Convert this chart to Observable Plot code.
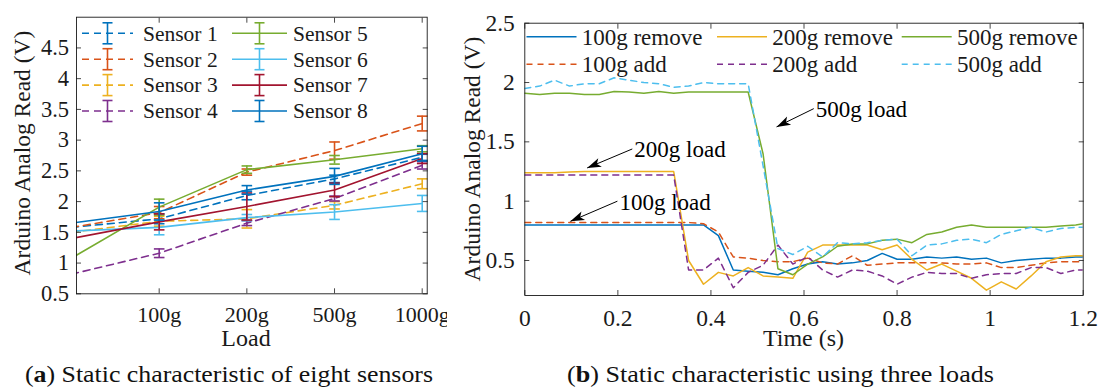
<!DOCTYPE html>
<html><head><meta charset="utf-8">
<script src="https://cdn.jsdelivr.net/npm/d3@7"></script>
<script src="https://cdn.jsdelivr.net/npm/@observablehq/plot@0.6"></script>
<style>
html,body{margin:0;padding:0;background:#fff;}
#wrap{position:relative;width:1099px;height:389px;overflow:hidden;background:#fff;}
#pa{position:absolute;left:0;top:0;width:447px;height:360px;overflow:hidden;}
#pb{position:absolute;left:447px;top:0;width:652px;height:360px;overflow:hidden;}
#caps{position:absolute;left:0;top:0;pointer-events:none;}
</style></head><body>
<div id="wrap"><div id="pa"></div><div id="pb"></div><svg id="caps" width="1099" height="389"></svg></div>
<script>
// ---------- Panel (a) data ----------
const sensorNames = ["Sensor 1","Sensor 2","Sensor 3","Sensor 4","Sensor 5","Sensor 6","Sensor 7","Sensor 8"];
const sensorColors = ["#0072BD","#D95319","#EDB120","#7E2F8E","#77AC30","#4DBEEE","#A2142F","#0072BD"];
const sensorDashed = [true,true,true,true,false,false,false,false];
const loadPos = [0,1,2,3,4];
const loadLabels = ["100g","200g","500g","1000g"];
const sensor1 = [1.58,1.72,2.10,2.37,2.72];
const sensor2 = [1.58,1.82,2.48,2.83,3.27];
const sensor3 = [1.50,1.68,1.72,1.94,2.29];
const sensor4 = [0.82,1.16,1.65,2.05,2.59];
const sensor5 = [1.08,1.91,2.52,2.68,2.86];
const sensor6 = [1.52,1.58,1.74,1.83,1.97];
const sensor7 = [1.40,1.67,1.92,2.19,2.70];
const sensor8 = [1.65,1.84,2.19,2.41,2.78];
const sensor1Err = [0.08,0.07,0.06,0.05];
const sensor2Err = [0.10,0.05,0.14,0.12];
const sensor3Err = [0.08,0.15,0.06,0.08];
const sensor4Err = [0.07,0.04,0.04,0.06];
const sensor5Err = [0.13,0.06,0.07,0.05];
const sensor6Err = [0.12,0.05,0.12,0.13];
const sensor7Err = [0.13,0.22,0.11,0.08];
const sensor8Err = [0.14,0.07,0.13,0.12];
const yTicksA = [0.5,1,1.5,2,2.5,3,3.5,4,4.5];

// ---------- Panel (b) data ----------
const timeS = [0,0.032,0.064,0.096,0.128,0.16,0.192,0.224,0.256,0.288,0.32,0.352,0.384,0.416,0.448,0.48,0.512,0.544,0.576,0.608,0.64,0.672,0.704,0.736,0.768,0.8,0.832,0.864,0.896,0.928,0.96,0.992,1.024,1.056,1.088,1.12,1.152,1.184,1.216];
const remove100 = [0.80,0.80,0.80,0.80,0.80,0.80,0.80,0.80,0.80,0.80,0.80,0.80,0.80,0.71,0.42,0.41,0.40,0.38,0.43,0.47,0.49,0.47,0.48,0.50,0.56,0.51,0.51,0.53,0.52,0.53,0.51,0.52,0.48,0.50,0.51,0.52,0.52,0.53,0.53];
const add100 = [0.82,0.82,0.82,0.82,0.82,0.82,0.82,0.82,0.82,0.82,0.82,0.82,0.81,0.74,0.53,0.52,0.50,0.49,0.49,0.52,0.48,0.47,0.54,0.46,0.47,0.48,0.48,0.48,0.48,0.47,0.47,0.48,0.44,0.44,0.46,0.48,0.49,0.49,0.49];
const remove200 = [1.24,1.24,1.24,1.245,1.25,1.25,1.25,1.25,1.25,1.25,1.25,0.50,0.30,0.40,0.37,0.44,0.37,0.36,0.35,0.57,0.63,0.63,0.63,0.63,0.59,0.63,0.51,0.42,0.47,0.41,0.35,0.25,0.32,0.26,0.37,0.49,0.53,0.54,0.54];
const add200 = [1.22,1.22,1.22,1.22,1.22,1.22,1.22,1.22,1.22,1.22,1.22,0.42,0.42,0.52,0.27,0.40,0.46,0.63,0.47,0.53,0.42,0.36,0.42,0.41,0.37,0.30,0.36,0.40,0.39,0.39,0.35,0.38,0.39,0.39,0.44,0.44,0.39,0.42,0.42];
const remove500 = [1.91,1.90,1.91,1.91,1.90,1.90,1.925,1.92,1.91,1.925,1.91,1.92,1.92,1.92,1.92,1.92,1.40,0.43,0.38,0.47,0.53,0.62,0.64,0.64,0.67,0.68,0.65,0.72,0.74,0.78,0.80,0.78,0.78,0.78,0.78,0.78,0.79,0.80,0.82];
const add500 = [1.95,1.97,2.02,1.97,1.99,1.99,2.04,2.02,2.00,1.99,1.96,1.97,2.00,1.99,1.99,1.99,1.30,0.60,0.55,0.62,0.53,0.65,0.64,0.65,0.67,0.68,0.54,0.63,0.64,0.67,0.68,0.65,0.72,0.75,0.78,0.74,0.77,0.78,0.78];
const seriesNames = ["100g remove","100g add","200g remove","200g add","500g remove","500g add"];
const seriesColors = ["#0072BD","#D95319","#EDB120","#7E2F8E","#77AC30","#4DBEEE"];
const seriesDashed = [false,true,false,true,false,true];
const xTicksB = [0,0.2,0.4,0.6,0.8,1,1.2];
const yTicksB = [0.5,1,1.5,2,2.5];
const annotLabels = ["100g load","200g load","500g load"];
const annotHeadT = [0.098,0.134,0.541];
const annotHeadV = [0.83,1.28,1.626];
const annotTailT = [0.199,0.231,0.621];
const annotTailV = [1.0,1.44,1.78];

// ---------- helpers ----------
const NS = "http://www.w3.org/2000/svg";
const FONT = "'Liberation Serif', 'Times New Roman', serif";
const INK = "#1a1a1a";
const capSymbol = {draw(ctx, size) { const w = Math.sqrt(size / Math.PI); ctx.moveTo(-w, 0); ctx.lineTo(w, 0); }};
function filledHead(color, context) {
  const doc = (context && context.document) || document;
  const m = doc.createElementNS(NS, "marker");
  m.setAttribute("viewBox", "-15 -6 16 12");
  m.setAttribute("markerWidth", "16");
  m.setAttribute("markerHeight", "12");
  m.setAttribute("markerUnits", "userSpaceOnUse");
  m.setAttribute("orient", "auto");
  m.setAttribute("refX", "0");
  m.setAttribute("refY", "0");
  const p = doc.createElementNS(NS, "path");
  p.setAttribute("d", "M0,0L-14,-4.6L-10.5,0L-14,4.6Z");
  p.setAttribute("fill", color === "currentColor" ? "black" : color);
  p.setAttribute("stroke", "none");
  m.appendChild(p);
  return m;
}
function boxTicks(xt, yt) {
  const o = {tickFormat: () => "", label: null, stroke: INK, strokeWidth: 0.8};
  return [
    Plot.axisX(xt, {...o, anchor: "bottom", tickSize: 5, dy: -5}),
    Plot.axisX(xt, {...o, anchor: "top", tickSize: 5, dy: 5}),
    Plot.axisY(yt, {...o, anchor: "left", tickSize: 5, dx: 5}),
    Plot.axisY(yt, {...o, anchor: "right", tickSize: 5, dx: -5})
  ];
}

// ---------- Panel (a) ----------
const sensorVals = [sensor1,sensor2,sensor3,sensor4,sensor5,sensor6,sensor7,sensor8];
const sensorErrs = [sensor1Err,sensor2Err,sensor3Err,sensor4Err,sensor5Err,sensor6Err,sensor7Err,sensor8Err];
const marksA = [];
sensorNames.forEach((name, i) => {
  const rows = loadPos.map((x, j) => ({x, v: sensorVals[i][j], e: j > 0 ? sensorErrs[i][j - 1] : null}));
  const eb = rows.filter(d => d.e != null);
  const caps = eb.flatMap(d => [{x: d.x, y: d.v - d.e}, {x: d.x, y: d.v + d.e}]);
  marksA.push(Plot.line(rows, {x: "x", y: "v", stroke: sensorColors[i], strokeWidth: 1.6, strokeDasharray: sensorDashed[i] ? "7,5" : null, clip: true}));
  marksA.push(Plot.ruleX(eb, {x: "x", y1: d => d.v - d.e, y2: d => d.v + d.e, stroke: sensorColors[i], strokeWidth: 1.6}));
  marksA.push(Plot.dot(caps, {x: "x", y: "y", symbol: capSymbol, r: 5.3, stroke: sensorColors[i], strokeWidth: 1.6, fill: "none"}));
});
const plotA = Plot.plot({
  width: 447, height: 360,
  marginTop: 16.7, marginRight: 20.3, marginBottom: 66.7, marginLeft: 76,
  style: {fontFamily: FONT, fontSize: "22px", color: INK, background: "white", overflow: "visible"},
  x: {type: "linear", domain: [0.057, 4.057]},
  y: {type: "linear", domain: [0.5, 5]},
  marks: [
    ...marksA,
    Plot.axisX([1,2,3,4], {tickSize: 0, tickPadding: 12.8, tickFormat: d => loadLabels[d - 1], fontSize: 22, label: null, fill: INK}),
    Plot.axisY(yTicksA, {tickSize: 0, tickPadding: 7.5, tickFormat: d => String(d), fontSize: 22.5, label: null, fill: INK}),
    ...boxTicks([1,2,3,4], yTicksA),
    Plot.frame({stroke: INK, strokeWidth: 0.9})
  ]
});
document.getElementById("pa").appendChild(plotA);
{
  const g = d3.select(plotA).append("g").attr("font-family", FONT).attr("text-anchor", "start");
  sensorNames.forEach((name, i) => {
    const col = Math.floor(i / 4), row = i % 4;
    const x1 = [82, 232][col], x2 = [133, 287][col], tx = [143, 293][col];
    const y = 33.3 + row * 25.9, xm = (x1 + x2) / 2;
    g.append("line").attr("x1", x1).attr("x2", x2).attr("y1", y).attr("y2", y)
      .attr("stroke", sensorColors[i]).attr("stroke-width", 1.6).attr("stroke-dasharray", sensorDashed[i] ? "7,5" : null);
    g.append("line").attr("x1", xm).attr("x2", xm).attr("y1", y - 10.5).attr("y2", y + 10.5).attr("stroke", sensorColors[i]).attr("stroke-width", 1.6);
    [y - 10.5, y + 10.5].forEach(cy => g.append("line").attr("x1", xm - 5).attr("x2", xm + 5).attr("y1", cy).attr("y2", cy).attr("stroke", sensorColors[i]).attr("stroke-width", 1.6));
    g.append("text").attr("x", tx).attr("y", y).attr("dy", "0.34em").attr("text-anchor", "start").attr("font-size", "21.5px").attr("fill", INK).text(name);
  });
  g.append("text").attr("transform", "translate(29.5,153) rotate(-90)").attr("text-anchor", "middle").attr("font-size", "23.5px").attr("fill", INK).text("Arduino Analog Read (V)");
  g.append("text").attr("x", 246).attr("y", 346).attr("text-anchor", "middle").attr("font-size", "24px").attr("fill", INK).text("Load");
}

// ---------- Panel (b) ----------
const seriesVals = [remove100, add100, remove200, add200, remove500, add500];
const marksB = seriesNames.map((name, i) => Plot.line(timeS.map((t, k) => ({t, v: seriesVals[i][k]})), {
  x: "t", y: "v", stroke: seriesColors[i], strokeWidth: 1.5, strokeDasharray: seriesDashed[i] ? "6,5" : null, clip: true
}));
const annots = annotLabels.map((label, i) => ({label, hx: annotHeadT[i], hy: annotHeadV[i], tx: annotTailT[i], ty: annotTailV[i]}));
function buildB(marker) {
  return Plot.plot({
    width: 652, height: 360,
    marginTop: 22.7, marginRight: 16.3, marginBottom: 65, marginLeft: 77.3,
    style: {fontFamily: FONT, fontSize: "23px", color: INK, background: "white", overflow: "visible"},
    x: {type: "linear", domain: [0, 1.2]},
    y: {type: "linear", domain: [0.205, 2.5]},
    marks: [
      ...marksB,
      Plot.link(annots, {x1: "tx", y1: "ty", x2: "hx", y2: "hy", stroke: "black", strokeWidth: 1, markerEnd: marker}),
      Plot.text(annots, {x: "tx", y: "ty", text: "label", textAnchor: "start", lineAnchor: "middle", dx: 2, dy: 1, fontSize: 23, fill: "black"}),
      Plot.axisX(xTicksB, {tickSize: 0, tickPadding: 14.3, tickFormat: d => String(d), fontSize: 23.5, label: null, fill: INK}),
      Plot.axisY(yTicksB, {tickSize: 0, tickPadding: 10, tickFormat: d => String(d), fontSize: 23.5, label: null, fill: INK}),
      ...boxTicks(xTicksB, yTicksB),
      Plot.frame({stroke: INK, strokeWidth: 0.9})
    ]
  });
}
let plotB;
try { plotB = buildB(filledHead); } catch (e) { plotB = buildB("arrow"); }
document.getElementById("pb").appendChild(plotB);
{
  const g = d3.select(plotB).append("g").attr("font-family", FONT).attr("text-anchor", "start");
  const lx = [79.5, 270, 454.7], ly = [36.7, 64.3];
  const order = [[0, 0, 0], [2, 1, 0], [4, 2, 0], [1, 0, 1], [3, 1, 1], [5, 2, 1]];
  order.forEach(([si, c, r]) => {
    const x1 = lx[c], y = ly[r];
    g.append("line").attr("x1", x1).attr("x2", x1 + 50).attr("y1", y).attr("y2", y)
      .attr("stroke", seriesColors[si]).attr("stroke-width", 1.5).attr("stroke-dasharray", seriesDashed[si] ? "6,5" : null);
    g.append("text").attr("x", x1 + 55.2).attr("y", y).attr("dy", "0.34em").attr("text-anchor", "start").attr("font-size", "23px").attr("fill", INK).text(seriesNames[si]);
  });
  g.append("text").attr("transform", "translate(33,159) rotate(-90)").attr("text-anchor", "middle").attr("font-size", "23.5px").attr("fill", INK).text("Arduino Analog Read (V)");
  g.append("text").attr("x", 356.5).attr("y", 346).attr("text-anchor", "middle").attr("font-size", "24px").attr("fill", INK).text("Time (s)");
}

// ---------- captions ----------
{
  const cap = d3.select("#caps").attr("font-family", FONT).attr("font-size", "23px").attr("fill", "#111");
  const a = cap.append("text").attr("x", 25).attr("y", 381.7).attr("textLength", 408).attr("lengthAdjust", "spacingAndGlyphs");
  a.append("tspan").text("(");
  a.append("tspan").attr("font-weight", "bold").text("a");
  a.append("tspan").text(") Static characteristic of eight sensors");
  const b = cap.append("text").attr("x", 567).attr("y", 381.7).attr("textLength", 427).attr("lengthAdjust", "spacingAndGlyphs");
  b.append("tspan").text("(");
  b.append("tspan").attr("font-weight", "bold").text("b");
  b.append("tspan").text(") Static characteristic using three loads");
}
</script>
</body></html>
